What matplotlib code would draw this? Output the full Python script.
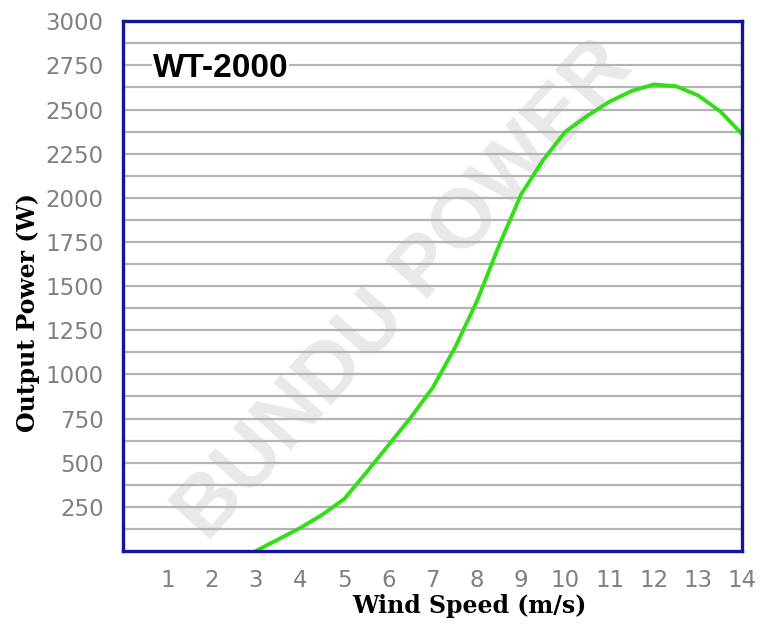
import matplotlib
matplotlib.use('Agg')
import matplotlib.pyplot as plt

# Данные: скорость ветра (м/с) и выходная мощность (Вт)
wind_speed = [3.0, 3.5, 4.0, 4.5, 5.0, 5.5, 6.0, 6.5, 7.0, 7.5, 8.0, 8.5, 9.0,
              9.5, 10.0, 10.5, 11.0, 11.5, 12.0, 12.5, 13.0, 13.5, 14.0]
power = [0, 65, 130, 205, 295, 445, 600, 755, 925, 1150, 1415, 1730, 2020,
         2215, 2375, 2465, 2545, 2605, 2642, 2632, 2580, 2490, 2360]

x_ticks = list(range(1, 15))
y_ticks = list(range(250, 3001, 250))
y_grid = list(range(125, 3000, 125))

fig = plt.figure(figsize=(7.7, 6.24), dpi=100)
ax = fig.add_axes([0.16, 0.117, 0.804, 0.849])

# Водяной знак
ax.text(0.455, 0.49, 'BUNDU POWER', transform=ax.transAxes, rotation=48,
        fontsize=60, fontweight='bold', family='Liberation Sans',
        color='#e9e9e9', ha='center', va='center', zorder=0.2)

# Горизонтальная сетка
for y in y_grid:
    ax.axhline(y, color='#b4b4b4', linewidth=1.6, zorder=0.5)

ax.plot(wind_speed, power, color='#33dd18', linewidth=2.8, zorder=3,
        solid_capstyle='round')

ax.set_xlim(0, 14)
ax.set_ylim(0, 3000)
ax.set_xticks(x_ticks)
ax.set_yticks(y_ticks)
ax.tick_params(length=0, labelsize=16.5, labelcolor='#808080')
ax.tick_params(axis='x', pad=13)
ax.tick_params(axis='y', pad=14)

for s in ax.spines.values():
    s.set_color('#1414a0')
    s.set_linewidth(2.4)
    s.set_zorder(4)

ax.text(0.048, 0.911, 'WT-2000', transform=ax.transAxes, fontsize=24,
        fontweight='bold', family='Liberation Sans', color='black',
        ha='left', va='center', zorder=5,
        bbox=dict(facecolor='white', edgecolor='none', pad=0.5))

ax.set_xlabel('Wind Speed (m/s)', fontsize=17, fontweight='bold',
              family='DejaVu Serif')
ax.set_ylabel('Output Power (W)', fontsize=17, fontweight='bold',
              family='DejaVu Serif')
ax.xaxis.set_label_coords(0.559, -0.082)
ax.yaxis.set_label_coords(-0.134, 0.451)

plt.savefig('out.png', dpi=100)
